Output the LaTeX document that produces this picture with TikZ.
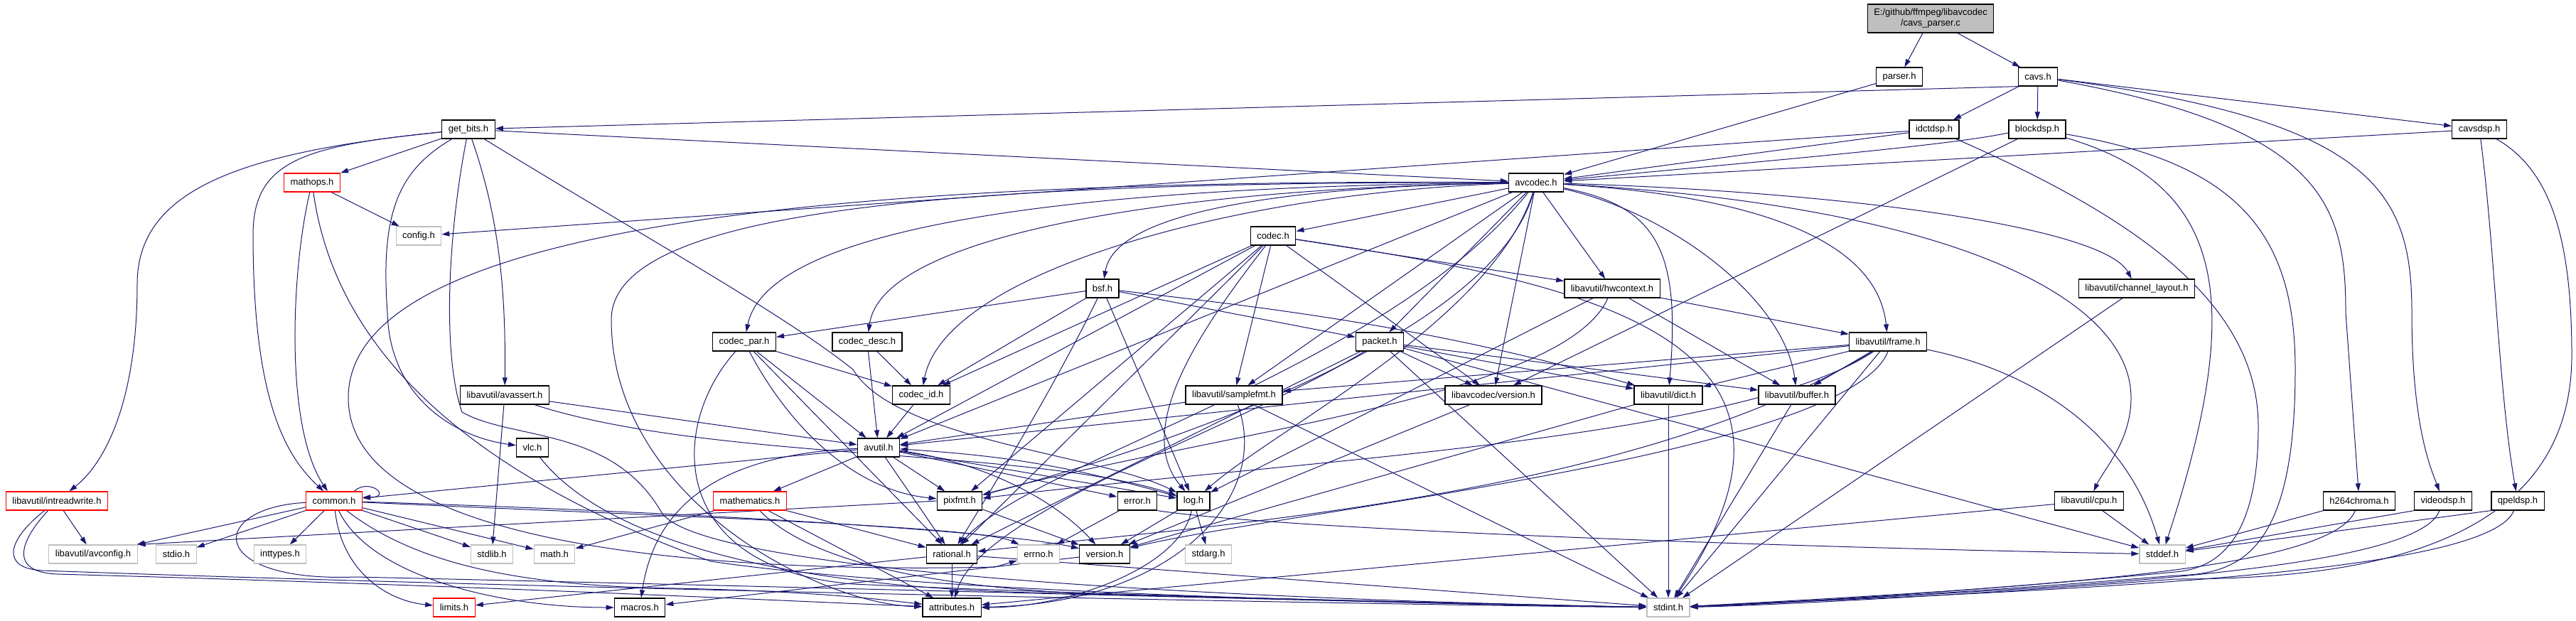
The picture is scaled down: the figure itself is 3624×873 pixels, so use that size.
\documentclass[tikz,border=0pt]{standalone}
\usepackage{fontspec}
\setmainfont{Liberation Sans}
\usepackage{tikz}
\usetikzlibrary{arrows.meta}
\pgfdeclarelayer{back}
\pgfdeclarelayer{wires}
\pgfsetlayers{back,wires,main}
\definecolor{depblue}{RGB}{25,25,112}
\definecolor{filegray}{RGB}{191,191,191}
\definecolor{sysgray}{RGB}{191,191,191}
\definecolor{cutred}{RGB}{255,0,0}
\tikzset{
 hdrbox/.style={
 rectangle,
 draw=black,
 fill=white,
 line width=1.3pt,
 inner xsep=9pt,
 inner ysep=0pt,
 minimum height=26pt,
 font=\fontsize{13}{15}\selectfont
 },
 sysbox/.style={hdrbox, draw=sysgray, line width=1.2pt},
 cutbox/.style={hdrbox, draw=cutred},
 srcbox/.style={hdrbox, fill=filegray, align=center, minimum height=40pt},
 dep/.style={-{Triangle[length=11pt,width=7pt]}, line width=1pt, draw=depblue}
}

\begin{document}
\begin{tikzpicture}[x=1pt,y=-1pt]
 \begin{pgfonlayer}{back}
 \fill[white] (0,0) rectangle (3624,873);
 \end{pgfonlayer}
 \useasboundingbox (0,0) rectangle (3624,873);

 \node[srcbox] (file) at (2716,26) {E:/github/ffmpeg/libavcodec\\/cavs\_parser.c};
 \node[hdrbox] (parser) at (2672,108) {parser.h};
 \node[hdrbox] (cavs) at (2867,108) {cavs.h};
 \node[hdrbox] (getbits) at (659,182) {get\_bits.h};
 \node[hdrbox] (idctdsp) at (2721,182) {idctdsp.h};
 \node[hdrbox] (blockdsp) at (2866,182) {blockdsp.h};
 \node[hdrbox] (cavsdsp) at (3488,182) {cavsdsp.h};
 \node[cutbox] (mathops) at (439,257) {mathops.h};
 \node[hdrbox] (avcodec) at (2161,257) {avcodec.h};
 \node[sysbox] (config) at (589,332) {config.h};
 \node[hdrbox] (codec) at (1791,332) {codec.h};
 \node[hdrbox] (bsf) at (1551,406) {bsf.h};
 \node[hdrbox] (hwcontext) at (2268,406) {libavutil/hwcontext.h};
 \node[hdrbox] (chlayout) at (3006,406) {libavutil/channel\_layout.h};
 \node[hdrbox] (codecpar) at (1047,481) {codec\_par.h};
 \node[hdrbox] (codecdesc) at (1220,481) {codec\_desc.h};
 \node[hdrbox] (packet) at (1941,481) {packet.h};
 \node[hdrbox] (frame) at (2656,481) {libavutil/frame.h};
 \node[hdrbox] (avassert) at (710,556) {libavutil/avassert.h};
 \node[hdrbox] (codecid) at (1296,556) {codec\_id.h};
 \node[hdrbox] (samplefmt) at (1736,556) {libavutil/samplefmt.h};
 \node[hdrbox] (lcversion) at (2101,556) {libavcodec/version.h};
 \node[hdrbox] (dict) at (2347,556) {libavutil/dict.h};
 \node[hdrbox] (buffer) at (2528,556) {libavutil/buffer.h};
 \node[hdrbox] (vlc) at (749,630) {vlc.h};
 \node[hdrbox] (avutil) at (1236,630) {avutil.h};
 \node[cutbox] (intreadwrite) at (80,705) {libavutil/intreadwrite.h};
 \node[cutbox] (common) at (470,705) {common.h};
 \node[cutbox] (mathematics) at (1055,705) {mathematics.h};
 \node[hdrbox] (pixfmt) at (1350,705) {pixfmt.h};
 \node[hdrbox] (error) at (1600,705) {error.h};
 \node[hdrbox] (log) at (1679,705) {log.h};
 \node[hdrbox] (cpu) at (2939,705) {libavutil/cpu.h};
 \node[hdrbox] (h264chroma) at (3319,705) {h264chroma.h};
 \node[hdrbox] (videodsp) at (3437,705) {videodsp.h};
 \node[hdrbox] (qpeldsp) at (3542,705) {qpeldsp.h};
 \node[sysbox] (avconfig) at (131,780) {libavutil/avconfig.h};
 \node[sysbox] (stdio) at (248,780) {stdio.h};
 \node[sysbox] (inttypes) at (394,780) {inttypes.h};
 \node[sysbox] (stdlib) at (692,780) {stdlib.h};
 \node[sysbox] (math) at (780,780) {math.h};
 \node[hdrbox] (rational) at (1339,780) {rational.h};
 \node[sysbox] (errno) at (1461,780) {errno.h};
 \node[hdrbox] (version) at (1554,780) {version.h};
 \node[sysbox] (stdarg) at (1700,780) {stdarg.h};
 \node[sysbox] (stddef) at (3042,780) {stddef.h};
 \node[cutbox] (limits) at (639,855) {limits.h};
 \node[hdrbox] (macros) at (900,855) {macros.h};
 \node[hdrbox] (attributes) at (1339,855) {attributes.h};
 \node[sysbox] (stdint) at (2347,855) {stdint.h};

 \begin{pgfonlayer}{wires}
 \draw[dep] (file) -- (parser);
 \draw[dep] (file) -- (cavs);
 \draw[dep] (parser) -- (avcodec);

 \draw[dep] (cavs.south west) -- (getbits);
 \draw[dep] (cavs) -- (idctdsp);
 \draw[dep] (cavs) -- (blockdsp);
 \draw[dep] (cavs) -- (cavsdsp);
 \draw[dep] (cavs) .. controls (3270,180) and (3300,290) .. (3300,440) -- (h264chroma);
 \draw[dep] (cavs) .. controls (3340,170) and (3393,270) .. (3393,440) .. controls (3393,600) and (3420,660) .. (videodsp);

 \draw[dep] (getbits) -- (avcodec);
 \draw[dep] (getbits) -- (mathops);
 \draw[dep] (getbits) .. controls (330,215) and (193,270) .. (193,400) .. controls (193,560) and (150,650) .. (intreadwrite);
 \draw[dep] (getbits) .. controls (430,205) and (356,225) .. (356,330) .. controls (356,560) and (400,640) .. (common);
 \draw[dep] (getbits) .. controls (560,240) and (535,300) .. (545,440) .. controls (548,560) and (640,615) .. (vlc);
 \draw[dep] (getbits) .. controls (700,300) and (712,400) .. (avassert);
 \draw[dep] (getbits) .. controls (900,330) and (1100,440) .. (1200,520) .. controls (1260,620) and (1550,640) .. (log);
 \draw[dep] (getbits) .. controls (630,330) and (622,500) .. (650,580) .. controls (720,620) and (860,600) .. (930,720) .. controls (980,810) and (1800,845) .. (stdint);

 \draw[dep] (mathops) -- (config);
 \draw[dep] (mathops) .. controls (410,380) and (400,600) .. (common);
 \draw[dep] (mathops) .. controls (470,480) and (640,660) .. (1000,790) .. controls (1300,835) and (2000,850) .. (stdint);

 \draw[dep] (idctdsp) -- (avcodec);
 \draw[dep] (idctdsp) -- (config);
 \draw[dep] (idctdsp) .. controls (2990,300) and (3177,420) .. (3177,600) .. controls (3177,760) and (3120,800) .. (3060,805) .. controls (2800,830) and (2500,850) .. (stdint);
 \draw[dep] ([yshift=-5pt]blockdsp.west) .. controls (2740,205) and (2500,225) .. (avcodec);
 \draw[dep] (blockdsp) -- (lcversion);
 \draw[dep] (blockdsp) .. controls (3130,260) and (3160,420) .. (stddef);
 \draw[dep] (blockdsp) .. controls (3150,230) and (3229,330) .. (3229,520) .. controls (3229,780) and (3150,808) .. (3060,810) .. controls (2800,832) and (2500,850) .. (stdint);
 \draw[dep] (cavsdsp) -- (avcodec);
 \draw[dep] (cavsdsp) .. controls (3510,350) and (3515,550) .. (qpeldsp);
 \draw[dep] (cavsdsp) .. controls (3590,240) and (3618,340) .. (3618,500) .. controls (3618,780) and (3300,815) .. (3060,815) .. controls (2800,835) and (2500,852) .. (stdint);
 \draw[dep] (h264chroma) -- (stddef);
 \draw[dep] (h264chroma) .. controls (3280,800) and (2900,825) .. (stdint);
 \draw[dep] (videodsp.south west) -- (stddef);
 \draw[dep] (videodsp) .. controls (3400,805) and (2900,828) .. (stdint);
 \draw[dep] (qpeldsp.south west) -- (stddef);
 \draw[dep] (qpeldsp) .. controls (3500,810) and (2900,830) .. (stdint);

 \draw[dep] (avcodec) .. controls (1850,262) and (1570,290) .. (bsf);
 \draw[dep] (avcodec) -- (codec);
 \draw[dep] (avcodec) .. controls (1500,262) and (1080,320) .. (codecpar);
 \draw[dep] (avcodec) .. controls (1650,265) and (1240,330) .. (codecdesc);
 \draw[dep] (avcodec) .. controls (1750,270) and (1330,380) .. (codecid);
 \draw[dep] (avcodec) -- (avutil);
 \draw[dep] (avcodec) -- (packet);
 \draw[dep] (avcodec) -- (lcversion);
 \draw[dep] (avcodec) -- (hwcontext);
 \draw[dep] (avcodec) .. controls (2330,290) and (2365,350) .. (dict);
 \draw[dep] (avcodec) .. controls (2350,300) and (2510,420) .. (buffer);
 \draw[dep] (avcodec) .. controls (2450,275) and (2640,330) .. (frame);
 \draw[dep] (avcodec) -- (samplefmt);
 \draw[dep] (avcodec) .. controls (2600,270) and (2960,320) .. (chlayout);
 \draw[dep] (avcodec) .. controls (2750,290) and (2998,420) .. (2998,560) .. controls (2998,620) and (2960,660) .. (cpu);
 \draw[dep] (avcodec) .. controls (2100,450) and (1800,600) .. (log);
 \draw[dep] (avcodec) .. controls (2100,480) and (1600,640) .. (pixfmt);
 \draw[dep] (avcodec) .. controls (1950,520) and (1450,650) .. (rational);
 \draw[dep] (avcodec) .. controls (1300,255) and (860,300) .. (860,450) .. controls (860,700) and (1150,850) .. (attributes);
 \draw[dep] (avcodec) .. controls (1100,250) and (490,330) .. (490,560) .. controls (490,790) and (1100,805) .. (1400,798) -- (errno);

 \draw[dep] (bsf) -- (codecpar);
 \draw[dep] (bsf) -- (codecid);
 \draw[dep] (bsf) -- (packet);
 \draw[dep] (bsf) .. controls (1750,430) and (2000,455) .. (dict);
 \draw[dep] (bsf) -- (log);
 \draw[dep] (bsf) .. controls (1480,550) and (1400,680) .. (rational);

 \draw[dep] (codec) -- (avutil);
 \draw[dep] (codec) -- (hwcontext);
 \draw[dep] (codec) .. controls (1700,450) and (1590,600) .. (log);
 \draw[dep] (codec) -- (pixfmt);
 \draw[dep] (codec) -- (rational);
 \draw[dep] (codec) -- (samplefmt);
 \draw[dep] (codec) -- (codecid);
 \draw[dep] (codec) -- (lcversion);
 \draw[dep] (codec) .. controls (2250,400) and (2600,480) .. (stdint);

 \draw[dep] (codecpar) -- (codecid);
 \draw[dep] (codecpar) -- (avutil);
 \draw[dep] (codecpar) -- (rational);
 \draw[dep] (codecpar) .. controls (1110,600) and (1200,690) .. (pixfmt);
 \draw[dep] (codecpar) .. controls (940,600) and (940,800) .. (1200,822) .. controls (1600,840) and (2100,850) .. (stdint);
 \draw[dep] (codecdesc) -- (avutil);
 \draw[dep] (codecdesc) -- (codecid);
 \draw[dep] (codecid) -- (avutil);

 \draw[dep] (packet) -- (lcversion);
 \draw[dep] (packet) -- (dict);
 \draw[dep] (packet) -- (buffer);
 \draw[dep] (packet) -- (rational);
 \draw[dep] (packet) .. controls (1750,600) and (1380,720) .. (attributes);
 \draw[dep] (packet) -- (stdint);
 \draw[dep] (packet) -- (stddef);
 \draw[dep] (lcversion) -- (version);

 \draw[dep] (hwcontext) -- (buffer);
 \draw[dep] (hwcontext) -- (frame);
 \draw[dep] (hwcontext) -- (log);
 \draw[dep] (hwcontext) .. controls (2200,560) and (1700,610) .. (pixfmt);

 \draw[dep] (frame) -- (buffer);
 \draw[dep] (frame) -- (dict);
 \draw[dep] (frame) -- (avutil);
 \draw[dep] (frame) -- (samplefmt);
 \draw[dep] (frame) .. controls (2450,620) and (1800,650) .. (pixfmt);
 \draw[dep] (frame.south) .. controls (2600,640) and (1800,720) .. (version);
 \draw[dep] (frame) .. controls (2300,700) and (1700,740) .. (rational);
 \draw[dep] (frame) -- (stdint);
 \draw[dep] (frame) .. controls (2850,520) and (2990,600) .. (stddef);

 \draw[dep] (samplefmt) -- (avutil);
 \draw[dep] (samplefmt) .. controls (1790,700) and (1650,850) .. (attributes);
 \draw[dep] (samplefmt) -- (stdint);
 \draw[dep] (dict) -- (stdint);
 \draw[dep] (dict) -- (version);
 \draw[dep] (buffer) -- (stdint);
 \draw[dep] (chlayout) -- (stdint);
 \draw[dep] (cpu) -- (stddef);
 \draw[dep] (cpu) -- (attributes);

 \draw[dep] (avassert) -- (stdlib);
 \draw[dep] (avassert) -- (avutil);
 \draw[dep] (avassert) .. controls (1000,650) and (1450,630) .. (log);
 \draw[dep] (vlc) .. controls (850,760) and (1100,825) .. (1450,834) .. controls (1900,845) and (2150,852) .. (stdint);

 \draw[dep] (avutil) -- (common);
 \draw[dep] (avutil) -- (error);
 \draw[dep] (avutil) -- (rational);
 \draw[dep] (avutil) .. controls (1380,650) and (1480,700) .. (version);
 \draw[dep] (avutil) .. controls (1000,640) and (920,720) .. (macros);
 \draw[dep] (avutil) -- (mathematics);
 \draw[dep] (avutil) -- (pixfmt);
 \draw[dep] (avutil) -- (log);
 \draw[dep] (log) to[bend right=6] (avutil);
 \draw[dep] (log) -- (stdarg);
 \draw[dep] (log) -- (version);
 \draw[dep] (log) .. controls (1660,800) and (1500,855) .. (attributes);
 \draw[dep] (error) -- (errno);
 \draw[dep] (error.south east) .. controls (1800,745) and (2500,770) .. (stddef);
 \draw[dep] (pixfmt.west) -- (avconfig.north east);
 \draw[dep] (pixfmt) -- (version);

 \draw[dep] (mathematics) -- (math);
 \draw[dep] (mathematics) -- (rational);
 \draw[dep] (mathematics) -- (attributes);
 \draw[dep] (mathematics) .. controls (1150,800) and (1350,832) .. (1600,838) .. controls (1900,845) and (2150,852) .. (stdint);
 \draw[dep] (rational) -- (attributes);
 \draw[dep] (rational) -- (limits);
 \draw[dep] (rational) -- (stdint);
 \draw[dep] (version) -- (macros);

 \draw[dep] ([xshift=-12pt]common.north east) .. controls (520,672) and (552,700) .. ([yshift=5pt]common.east);
 \draw[dep] (common) -- (avconfig);
 \draw[dep] (common) -- (stdio);
 \draw[dep] (common) -- (inttypes);
 \draw[dep] (common) -- (stdlib);
 \draw[dep] (common) -- (math);
 \draw[dep] (common) .. controls (480,800) and (540,845) .. (limits);
 \draw[dep] (common) .. controls (520,810) and (700,855) .. (macros);
 \draw[dep] (common) .. controls (900,718) and (1400,745) .. (version);
 \draw[dep] (common) .. controls (900,725) and (1380,740) .. (errno);
 \draw[dep] (common) .. controls (290,715) and (290,820) .. (500,812) .. controls (1300,830) and (2000,850) .. (stdint);
 \draw[dep] (common) .. controls (580,790) and (720,825) .. (950,828) .. controls (1150,832) and (1250,845) .. (attributes);

 \draw[dep] (intreadwrite) -- (avconfig);
 \draw[dep] (intreadwrite) .. controls (10,760) and (0,800) .. (60,803) .. controls (800,830) and (2000,852) .. (stdint);
 \draw[dep] (intreadwrite) .. controls (25,765) and (15,805) .. (80,808) .. controls (700,825) and (1150,848) .. (attributes);
 \end{pgfonlayer}
\end{tikzpicture}
\end{document}
